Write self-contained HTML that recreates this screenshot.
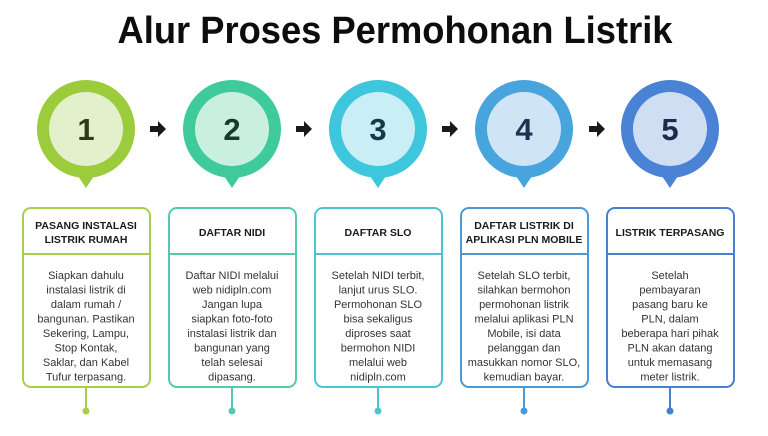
<!DOCTYPE html>
<html><head><meta charset="utf-8"><style>
html,body{margin:0;padding:0;background:#fff;}
svg{display:block;}
text{font-family:"Liberation Sans",sans-serif;}
.h{font-weight:bold;font-size:10.5px;fill:#1a1a1a;text-anchor:middle;}
.b{font-size:11px;fill:#333;text-anchor:middle;}
.n{font-weight:bold;font-size:31px;text-anchor:middle;}
</style></head><body>
<svg width="768" height="436" viewBox="0 0 768 436" xmlns="http://www.w3.org/2000/svg">
<rect width="768" height="436" fill="#fff"/>
<text x="395" y="43" font-size="38" font-weight="bold" text-anchor="middle" textLength="555" lengthAdjust="spacingAndGlyphs" fill="#0d0d0d">Alur Proses Permohonan Listrik</text>

<!-- arrows -->
<g fill="#1a1a1a">
<path d="M150,126 h8 v-5 l8,8 l-8,8 v-5 h-8z"/>
<path d="M296,126 h8 v-5 l8,8 l-8,8 v-5 h-8z"/>
<path d="M442,126 h8 v-5 l8,8 l-8,8 v-5 h-8z"/>
<path d="M589,126 h8 v-5 l8,8 l-8,8 v-5 h-8z"/>
</g>

<!-- step 1 -->
<g>
<path d="M78,176 L86,188 L94,176Z" fill="#9ccb3b"/>
<circle cx="86" cy="129" r="49" fill="#9ccb3b"/>
<circle cx="86" cy="129" r="37" fill="#e2f0cb"/>
<text class="n" x="86" y="140" fill="#2d3a1e">1</text>
<rect x="23" y="208" width="127" height="179" rx="8" fill="#fff" stroke="#a8cf4c" stroke-width="2"/>
<line x1="23" y1="254" x2="150" y2="254" stroke="#a8cf4c" stroke-width="2"/>
<text class="h" x="86" y="229">PASANG INSTALASI</text>
<text class="h" x="86" y="243">LISTRIK RUMAH</text>
<text class="b"><tspan x="86" y="279">Siapkan dahulu</tspan><tspan x="86" dy="14.5">instalasi listrik di</tspan><tspan x="86" dy="14.5">dalam rumah /</tspan><tspan x="86" dy="14.5">bangunan. Pastikan</tspan><tspan x="86" dy="14.5">Sekering, Lampu,</tspan><tspan x="86" dy="14.5">Stop Kontak,</tspan><tspan x="86" dy="14.5">Saklar, dan Kabel</tspan><tspan x="86" dy="14.5">Tufur terpasang.</tspan></text>
<line x1="86" y1="387" x2="86" y2="411" stroke="#a8cf4c" stroke-width="2"/>
<circle cx="86" cy="411" r="3.5" fill="#a8cf4c"/>
</g>

<!-- step 2 -->
<g>
<path d="M224,176 L232,188 L240,176Z" fill="#3fca9c"/>
<circle cx="232" cy="129" r="49" fill="#3fca9c"/>
<circle cx="232" cy="129" r="37" fill="#c9efdf"/>
<text class="n" x="232" y="140" fill="#173a2e">2</text>
<rect x="169" y="208" width="127" height="179" rx="8" fill="#fff" stroke="#55c8b0" stroke-width="2"/>
<line x1="169" y1="254" x2="296" y2="254" stroke="#55c8b0" stroke-width="2"/>
<text class="h" x="232" y="236">DAFTAR NIDI</text>
<text class="b"><tspan x="232" y="279">Daftar NIDI melalui</tspan><tspan x="232" dy="14.5">web nidipln.com</tspan><tspan x="232" dy="14.5">Jangan lupa</tspan><tspan x="232" dy="14.5">siapkan foto-foto</tspan><tspan x="232" dy="14.5">instalasi listrik dan</tspan><tspan x="232" dy="14.5">bangunan yang</tspan><tspan x="232" dy="14.5">telah selesai</tspan><tspan x="232" dy="14.5">dipasang.</tspan></text>
<line x1="232" y1="387" x2="232" y2="411" stroke="#55c8b0" stroke-width="2"/>
<circle cx="232" cy="411" r="3.5" fill="#55c8b0"/>
</g>

<!-- step 3 -->
<g>
<path d="M370,176 L378,188 L386,176Z" fill="#3ec6dc"/>
<circle cx="378" cy="129" r="49" fill="#3ec6dc"/>
<circle cx="378" cy="129" r="37" fill="#c9eef5"/>
<text class="n" x="378" y="140" fill="#17384a">3</text>
<rect x="315" y="208" width="127" height="179" rx="8" fill="#fff" stroke="#4fc3d0" stroke-width="2"/>
<line x1="315" y1="254" x2="442" y2="254" stroke="#4fc3d0" stroke-width="2"/>
<text class="h" x="378" y="236">DAFTAR SLO</text>
<text class="b"><tspan x="378" y="279">Setelah NIDI terbit,</tspan><tspan x="378" dy="14.5">lanjut urus SLO.</tspan><tspan x="378" dy="14.5">Permohonan SLO</tspan><tspan x="378" dy="14.5">bisa sekaligus</tspan><tspan x="378" dy="14.5">diproses saat</tspan><tspan x="378" dy="14.5">bermohon NIDI</tspan><tspan x="378" dy="14.5">melalui web</tspan><tspan x="378" dy="14.5">nidipln.com</tspan></text>
<line x1="378" y1="387" x2="378" y2="411" stroke="#4fc3d0" stroke-width="2"/>
<circle cx="378" cy="411" r="3.5" fill="#4fc3d0"/>
</g>

<!-- step 4 -->
<g>
<path d="M516,176 L524,188 L532,176Z" fill="#47a4dd"/>
<circle cx="524" cy="129" r="49" fill="#47a4dd"/>
<circle cx="524" cy="129" r="37" fill="#cfe5f6"/>
<text class="n" x="524" y="140" fill="#1a3550">4</text>
<rect x="461" y="208" width="127" height="179" rx="8" fill="#fff" stroke="#4a98d5" stroke-width="2"/>
<line x1="461" y1="254" x2="588" y2="254" stroke="#4a98d5" stroke-width="2"/>
<text class="h" x="524" y="229">DAFTAR LISTRIK DI</text>
<text class="h" x="524" y="243">APLIKASI PLN MOBILE</text>
<text class="b"><tspan x="524" y="279">Setelah SLO terbit,</tspan><tspan x="524" dy="14.5">silahkan bermohon</tspan><tspan x="524" dy="14.5">permohonan listrik</tspan><tspan x="524" dy="14.5">melalui aplikasi PLN</tspan><tspan x="524" dy="14.5">Mobile, isi data</tspan><tspan x="524" dy="14.5">pelanggan dan</tspan><tspan x="524" dy="14.5">masukkan nomor SLO,</tspan><tspan x="524" dy="14.5">kemudian bayar.</tspan></text>
<line x1="524" y1="387" x2="524" y2="411" stroke="#4a98d5" stroke-width="2"/>
<circle cx="524" cy="411" r="3.5" fill="#4a98d5"/>
</g>

<!-- step 5 -->
<g>
<path d="M662,176 L670,188 L678,176Z" fill="#4a82d6"/>
<circle cx="670" cy="129" r="49" fill="#4a82d6"/>
<circle cx="670" cy="129" r="37" fill="#d0def4"/>
<text class="n" x="670" y="140" fill="#1a2c4a">5</text>
<rect x="607" y="208" width="127" height="179" rx="8" fill="#fff" stroke="#4a7ed2" stroke-width="2"/>
<line x1="607" y1="254" x2="734" y2="254" stroke="#4a7ed2" stroke-width="2"/>
<text class="h" x="670" y="236">LISTRIK TERPASANG</text>
<text class="b"><tspan x="670" y="279">Setelah</tspan><tspan x="670" dy="14.5">pembayaran</tspan><tspan x="670" dy="14.5">pasang baru ke</tspan><tspan x="670" dy="14.5">PLN, dalam</tspan><tspan x="670" dy="14.5">beberapa hari pihak</tspan><tspan x="670" dy="14.5">PLN akan datang</tspan><tspan x="670" dy="14.5">untuk memasang</tspan><tspan x="670" dy="14.5">meter listrik.</tspan></text>
<line x1="670" y1="387" x2="670" y2="411" stroke="#4a7ed2" stroke-width="2"/>
<circle cx="670" cy="411" r="3.5" fill="#4a7ed2"/>
</g>
</svg>
</body></html>
